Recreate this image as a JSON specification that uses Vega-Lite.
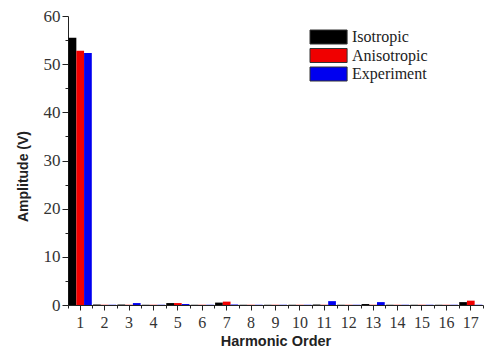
{
  "$schema": "https://vega.github.io/schema/vega-lite/v6.json",
  "autosize": "none",
  "width": 415,
  "height": 289,
  "padding": {"left": 68, "top": 16, "right": 5, "bottom": 46},
  "background": "white",
  "config": {
    "view": {"stroke": null},
    "axis": {
      "domainColor": "#222",
      "tickColor": "#222",
      "labelColor": "#333",
      "titleColor": "#222",
      "grid": false,
      "labelFont": "Liberation Serif",
      "labelFontSize": 17,
      "titleFont": "Liberation Sans",
      "titleFontWeight": "bold"
    }
  },
  "data": {
    "values": [
      {"h": 1, "series": "Isotropic", "v": 55.5},
      {"h": 1, "series": "Anisotropic", "v": 52.8},
      {"h": 1, "series": "Experiment", "v": 52.3},
      {"h": 2, "series": "Isotropic", "v": 0.1},
      {"h": 2, "series": "Anisotropic", "v": 0.05},
      {"h": 2, "series": "Experiment", "v": 0.05},
      {"h": 3, "series": "Isotropic", "v": 0.1},
      {"h": 3, "series": "Anisotropic", "v": 0.05},
      {"h": 3, "series": "Experiment", "v": 0.4},
      {"h": 4, "series": "Isotropic", "v": 0.05},
      {"h": 4, "series": "Anisotropic", "v": 0.05},
      {"h": 4, "series": "Experiment", "v": 0.05},
      {"h": 5, "series": "Isotropic", "v": 0.4},
      {"h": 5, "series": "Anisotropic", "v": 0.4},
      {"h": 5, "series": "Experiment", "v": 0.2},
      {"h": 6, "series": "Isotropic", "v": 0.05},
      {"h": 6, "series": "Anisotropic", "v": 0.05},
      {"h": 6, "series": "Experiment", "v": 0.05},
      {"h": 7, "series": "Isotropic", "v": 0.5},
      {"h": 7, "series": "Anisotropic", "v": 0.7},
      {"h": 7, "series": "Experiment", "v": 0.1},
      {"h": 8, "series": "Isotropic", "v": 0.05},
      {"h": 8, "series": "Anisotropic", "v": 0.05},
      {"h": 8, "series": "Experiment", "v": 0.05},
      {"h": 9, "series": "Isotropic", "v": 0.05},
      {"h": 9, "series": "Anisotropic", "v": 0.05},
      {"h": 9, "series": "Experiment", "v": 0.05},
      {"h": 10, "series": "Isotropic", "v": 0.05},
      {"h": 10, "series": "Anisotropic", "v": 0.05},
      {"h": 10, "series": "Experiment", "v": 0.05},
      {"h": 11, "series": "Isotropic", "v": 0.1},
      {"h": 11, "series": "Anisotropic", "v": 0.05},
      {"h": 11, "series": "Experiment", "v": 0.8},
      {"h": 12, "series": "Isotropic", "v": 0.05},
      {"h": 12, "series": "Anisotropic", "v": 0.05},
      {"h": 12, "series": "Experiment", "v": 0.05},
      {"h": 13, "series": "Isotropic", "v": 0.2},
      {"h": 13, "series": "Anisotropic", "v": 0.05},
      {"h": 13, "series": "Experiment", "v": 0.6},
      {"h": 14, "series": "Isotropic", "v": 0.05},
      {"h": 14, "series": "Anisotropic", "v": 0.05},
      {"h": 14, "series": "Experiment", "v": 0.05},
      {"h": 15, "series": "Isotropic", "v": 0.05},
      {"h": 15, "series": "Anisotropic", "v": 0.05},
      {"h": 15, "series": "Experiment", "v": 0.05},
      {"h": 16, "series": "Isotropic", "v": 0.05},
      {"h": 16, "series": "Anisotropic", "v": 0.05},
      {"h": 16, "series": "Experiment", "v": 0.05},
      {"h": 17, "series": "Isotropic", "v": 0.6},
      {"h": 17, "series": "Anisotropic", "v": 0.9},
      {"h": 17, "series": "Experiment", "v": 0.05}
    ]
  },
  "resolve": {"axis": {"x": "independent"}},
  "layer": [
    {
      "mark": {"type": "bar"},
      "encoding": {
        "x": {
          "field": "h",
          "type": "ordinal",
          "title": "Harmonic Order",
          "scale": {"paddingInner": 0, "paddingOuter": 0},
          "axis": {
            "orient": "bottom",
            "labelAngle": 0,
            "labelFontSize": 16,
            "tickSize": 5,
            "labelPadding": 4,
            "titlePadding": 4,
            "titleFontSize": 14.5
          }
        },
        "xOffset": {
          "field": "series",
          "type": "nominal",
          "sort": ["Isotropic", "Anisotropic", "Experiment"],
          "scale": {"paddingOuter": 0.08, "paddingInner": 0}
        },
        "y": {
          "field": "v",
          "type": "quantitative",
          "title": "Amplitude (V)",
          "scale": {"domain": [0, 60], "nice": false},
          "axis": {
            "values": [0, 5, 10, 15, 20, 25, 30, 35, 40, 45, 50, 55, 60],
            "labelExpr": "datum.value % 10 === 0 ? datum.label : ''",
            "tickSize": {"condition": {"test": "datum.value % 10 === 0", "value": 6}, "value": 3},
            "labelPadding": 2,
            "titlePadding": 13,
            "titleFontSize": 14,
            "titleY": 160
          }
        },
        "color": {
          "field": "series",
          "type": "nominal",
          "sort": ["Isotropic", "Anisotropic", "Experiment"],
          "scale": {
            "domain": ["Isotropic", "Anisotropic", "Experiment"],
            "range": ["#000000", "#f00000", "#0000f0"]
          },
          "legend": {
            "title": null,
            "orient": "none",
            "legendX": 241,
            "legendY": 13,
            "padding": 0,
            "symbolType": "M-1,-1H4.3V1H-1Z",
            "symbolSize": 196,
            "symbolStrokeColor": "#333",
            "symbolStrokeWidth": 1,
            "symbolOpacity": 1,
            "labelFont": "Liberation Serif",
            "labelFontSize": 16,
            "labelColor": "#222",
            "labelOffset": 27,
            "rowPadding": 0.5
          }
        }
      }
    },
    {
      "mark": {"type": "tick", "opacity": 0},
      "encoding": {
        "x": {
          "field": "h",
          "type": "ordinal",
          "axis": {
            "orient": "bottom",
            "title": null,
            "labels": false,
            "domain": false,
            "tickBand": "extent",
            "tickSize": 3
          }
        }
      }
    }
  ]
}
